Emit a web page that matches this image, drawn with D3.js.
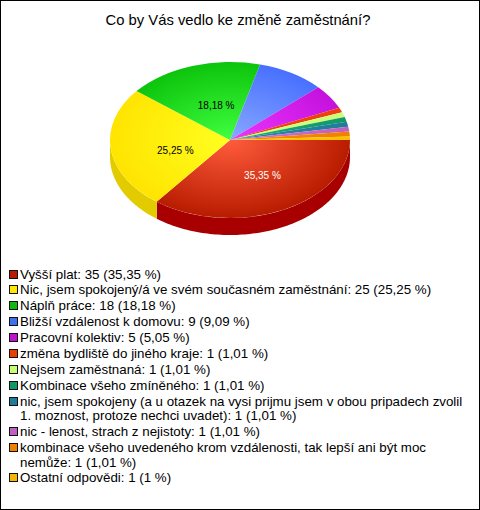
<!DOCTYPE html>
<html><head><meta charset="utf-8">
<script src="https://cdn.jsdelivr.net/npm/d3@7"></script>
<style>html,body{margin:0;padding:0;background:#fff}svg{display:block}text{font-family:"Liberation Sans",Arial,sans-serif}</style>
</head><body><div id="chart"></div>
<script>
const title = "Co by Vás vedlo ke změně zaměstnání?";
const categories = ["Vyšší plat","Nic, jsem spokojený/á ve svém současném zaměstnání","Náplň práce","Bližší vzdálenost k domovu","Pracovní kolektiv","změna bydliště do jiného kraje","Nejsem zaměstnaná","Kombinace všeho zmíněného","nic, jsem spokojeny (a u otazek na vysi prijmu jsem v obou pripadech zvolil 1. moznost, protoze nechci uvadet)","nic - lenost, strach z nejistoty","kombinace všeho uvedeného krom vzdálenosti, tak lepší ani být moc nemůže","Ostatní odpovědi"];
const counts = [35,25,18,9,5,1,1,1,1,1,1,1];
const percents = ["35,35 %","25,25 %","18,18 %","9,09 %","5,05 %","1,01 %","1,01 %","1,01 %","1,01 %","1,01 %","1,01 %","1 %"];
const sliceSizes = [35,25,18,9,5,1,1,1,1,1,1,0.7];
const swatch = ["#b81a08","#ffe800","#10b810","#4070f0","#c010d0","#e84000","#c8ff70","#109868","#207c98","#c060c0","#f08000","#f0b800"];
const inner = ["#ff5c3c","#ffff20","#40ff40","#88a8ff","#ec34ff","#f04010","#ccff78","#20a878","#2888a8","#d070d0","#f88808","#ffc800"];
const outer = ["#b81c00","#ffe400","#0cc40c","#4870ff","#c412dc","#f04010","#ccff78","#109868","#207c98","#c060c0","#f08000","#f8c000"];
const wallColor = ["#a80000","#e2cc00"];
const labelled = [0,1,2];

const W=480,H=510,cx=230,cy=140,R=120,ry=78,depth=17,sy=ry/R;
const svg=d3.select("#chart").append("svg").attr("width",W).attr("height",H);
svg.append("rect").attr("x",0.5).attr("y",0.5).attr("width",W-1).attr("height",H-1).attr("fill","#fff").attr("stroke","#000");
svg.append("text").attr("x",238).attr("y",25).attr("text-anchor","middle").attr("font-size",14.8).attr("fill","#000").text(title);

const pie=d3.pie().sort(null).startAngle(Math.PI/2).endAngle(Math.PI*2.5);
const arcs=pie(sliceSizes);
const arc=d3.arc().innerRadius(0).outerRadius(R);
const defs=svg.append("defs");
arcs.forEach((d,i)=>{
  const g=defs.append("radialGradient").attr("id","g"+i).attr("gradientUnits","userSpaceOnUse")
    .attr("cx",0).attr("cy",0).attr("r",R);
  g.append("stop").attr("offset","0%").attr("stop-color",inner[i]);
  g.append("stop").attr("offset","100%").attr("stop-color",outer[i]);
});
// side walls
const line=d3.line().x(p=>cx+R*Math.sin(p[0])).y(p=>cy-ry*Math.cos(p[0])+p[1]);
arcs.forEach((d,i)=>{
  const a0=Math.max(d.startAngle,Math.PI/2),a1=Math.min(d.endAngle,Math.PI*1.5);
  if(a1<=a0)return;
  const t=d3.range(0,1.0001,0.01).map(k=>a0+(a1-a0)*k);
  const pts=t.map(a=>[a,0]).concat(t.slice().reverse().map(a=>[a,depth]));
  svg.append("path").attr("d",line(pts)+"Z").attr("fill",wallColor[i]);
});
const face=svg.append("g").attr("transform",`translate(${cx},${cy}) scale(1,${sy})`);
face.selectAll("path").data(arcs).join("path").attr("d",arc).attr("fill",(d,i)=>`url(#g${i})`);
const lab=d3.arc().innerRadius(R/2).outerRadius(R/2);
const nudgeX=[6,5,5],nudgeY=[3.5,9,6.5];
labelled.forEach(i=>{
  const c=lab.centroid(arcs[i]);
  svg.append("text").attr("x",cx+c[0]+nudgeX[i]).attr("y",cy+c[1]*sy+nudgeY[i]).attr("text-anchor","middle")
    .attr("font-size",10).attr("fill",i===0?"#fff":"#000").text(percents[i]);
});
// legend
const leg=svg.append("g");
const maxW=448;
let y=278.5;
categories.forEach((c,i)=>{
  const full=`${c}: ${counts[i]} (${percents[i]})`;
  const t=leg.append("text").attr("x",20).attr("y",y).attr("font-size",13.33).attr("fill","#000");
  const words=full.split(" ");let cur="",lines=[];
  const meas=t.append("tspan");
  words.forEach(w=>{
    const n=cur?cur+" "+w:w;meas.text(n);
    if(meas.node().getComputedTextLength()>maxW&&cur){lines.push(cur);cur=w;}else cur=n;
  });
  lines.push(cur);meas.remove();
  lines.forEach((l,k)=>t.append("tspan").attr("x",20).attr("y",y+k*14.5).text(l));
  leg.append("rect").attr("x",9.5).attr("y",Math.round(y-9)+0.5).attr("width",8).attr("height",8)
    .attr("fill",swatch[i]).attr("stroke","#111").attr("stroke-width",1);
  y+=15.9+(lines.length-1)*14.5;
});
</script></body></html>
